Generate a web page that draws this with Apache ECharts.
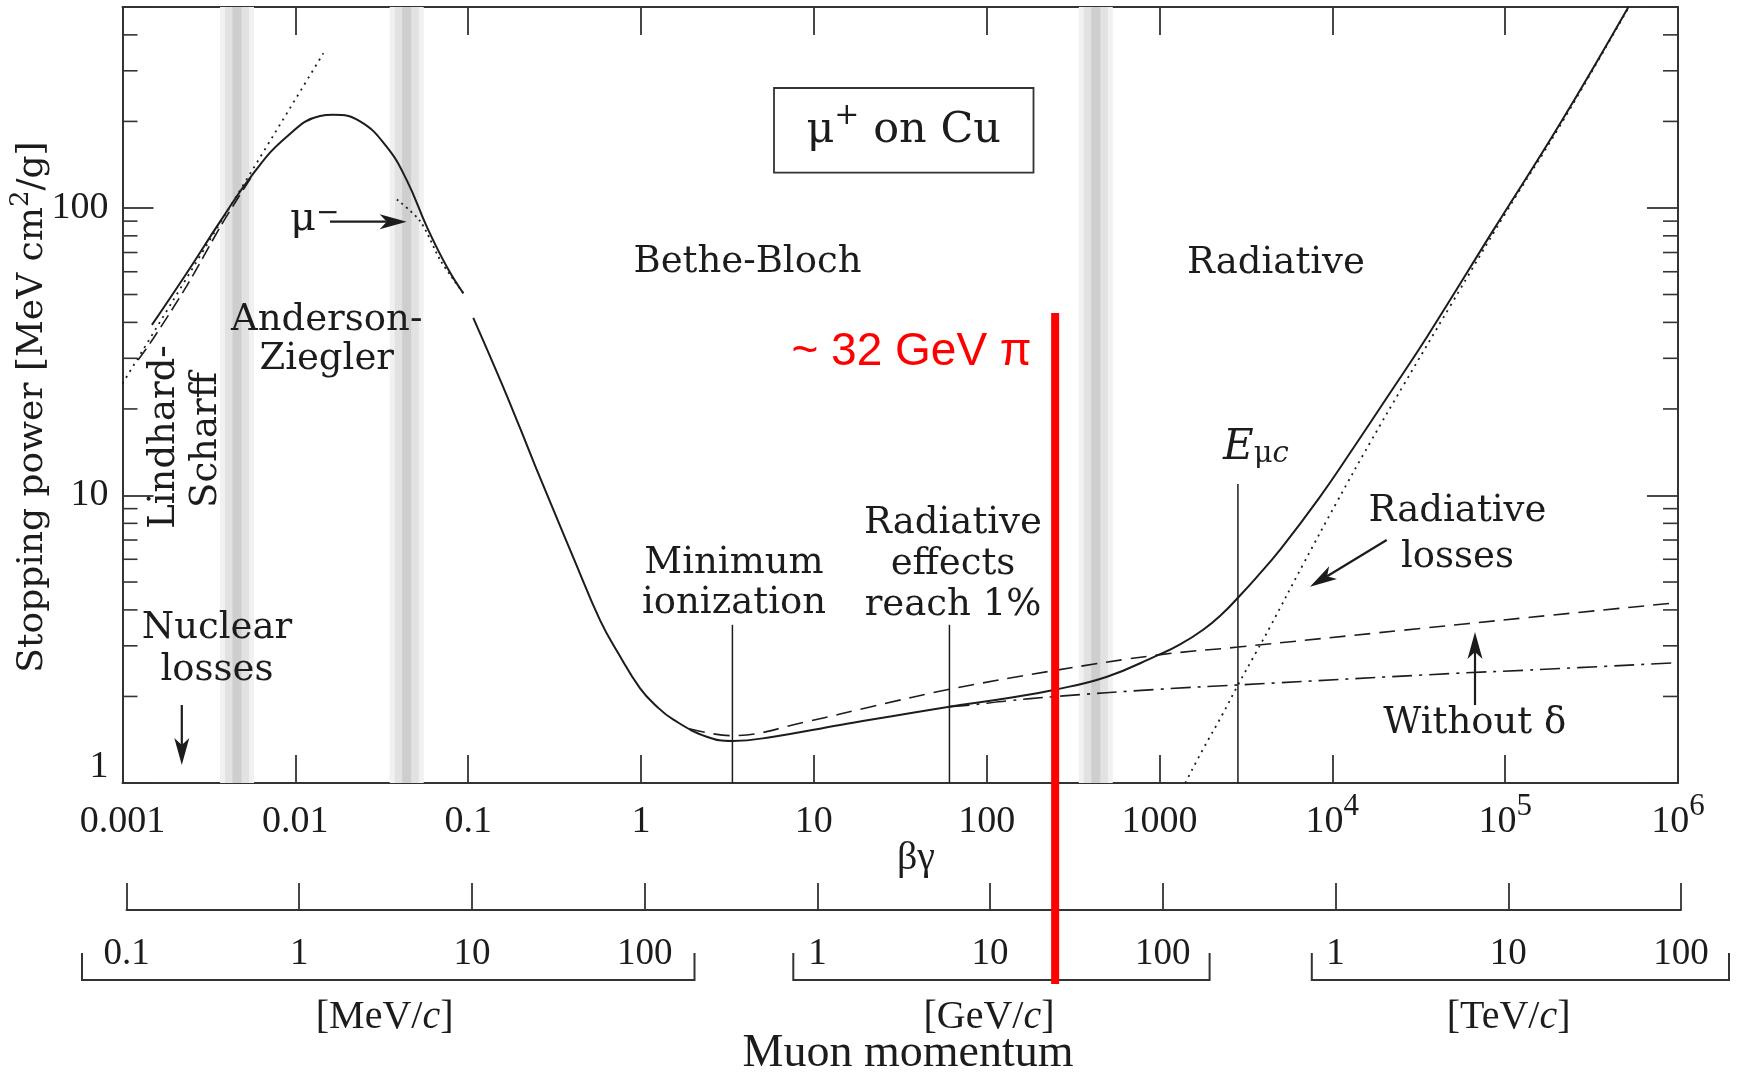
<!DOCTYPE html>
<html lang="en">
<head>
<meta charset="utf-8">
<title>Stopping power, mu+ on Cu</title>
<script src="https://cdn.jsdelivr.net/npm/echarts@6.0.0/dist/echarts.min.js"></script>
<style>
  html, body { margin: 0; padding: 0; background: #ffffff; }
  #chart { width: 1737px; height: 1075px; }
</style>
</head>
<body>
<div id="chart"></div>
<script>
// ---- values ----
// x: βγ, decades 0.001 .. 1e6 ; y: stopping power [MeV cm2/g], 1 .. 500
var betaGammaLabels = ['0.001', '0.01', '0.1', '1', '10', '100', '1000', '10{sup|4}', '10{sup|5}', '10{sup|6}'];
// muon momentum under the same decades (MeV/c, GeV/c, TeV/c)
var momentumLabels = ['0.1', '1', '10', '100', '1', '10', '100', '1', '10', '100'];
var stoppingLabels = ['1', '10', '100'];
var stoppingMinorTicks = [2, 3, 4, 5, 6, 7, 8, 9, 20, 30, 40, 50, 60, 70, 80, 90, 200, 300, 400];

// mu+ total (solid); null = the gap near βγ 0.1
var muPlusTotal = [
  [0.00148, 39.2], [0.00235, 59.3], [0.00367, 89.6], [0.00572, 132], [0.00892, 177],
  [0.0139, 209], [0.0166, 211], [0.0237, 200], [0.0338, 163], [0.0441, 125],
  [0.0576, 86.1], [0.0752, 62.5], [0.0938, 50.5], [0.1, null],
  [0.107, 41.5], [0.156, 24.6], [0.2, 17.1], [0.2465, 12.5], [0.33, 8.2], [0.41, 6.0],
  [0.58, 3.68], [0.74, 2.82], [0.988, 2.135], [1.23, 1.85], [1.54, 1.66], [2.4, 1.449],
  [3.38, 1.40], [5.84, 1.449], [14.2, 1.591], [60.9, 1.843], [131, 1.971], [244, 2.107],
  [497, 2.343], [987, 2.79], [1300, 3.02], [1797, 3.42], [2300, 3.87], [2843, 4.41],
  [3600, 5.15], [5060, 6.55], [8340, 9.75], [13000, 14.4], [20800, 22.0], [35260, 35.6],
  [85600, 83.9], [208400, 197], [517600, 501]
];
// mu- (dotted, near the Anderson-Ziegler peak)
var muMinus = [[0.0387, 107], [0.0527, 90], [0.0688, 66], [0.082, 56.5], [0.0938, 50.5]];
// Lindhard-Scharff (long dashes)
var lindhardScharff = [[0.00123, 29.6], [0.0015, 35], [0.00235, 53.5], [0.0037, 86.5], [0.0046, 107], [0.0057, 131]];
// low-energy straight extrapolation (dotted)
var lowEnergyLine = [[0.001, 24.5], [0.01452, 345]];
// without density effect δ (dashed)
var withoutDelta = [
  [1.9, 1.545], [3.38, 1.461], [9.11, 1.635], [22.1, 1.85], [60.9, 2.118], [244, 2.459],
  [987, 2.79], [2843, 2.97], [25820, 3.40], [139600, 3.77], [1000000, 4.24]
];
// ionization only (dash-dot)
var ionizationOnly = [
  [60.9, 1.843], [80.3, 1.867], [131, 1.93], [244, 1.997], [987, 2.118], [2843, 2.193],
  [52600, 2.408], [139600, 2.472], [1000000, 2.62]
];
// radiative losses (dotted)
var radiativeLosses = [
  [1409, 1.0], [1797, 1.32], [2300, 1.72], [2843, 2.19], [3600, 2.83], [4372, 3.5],
  [6818, 5.8], [10630, 9.5], [16570, 15.3], [25820, 24.2], [48100, 45.6], [100000, 95.5],
  [208400, 194], [517600, 498]
];
// vertical marker lines: minimum ionization, radiative effects 1%, E_muc
var markerBetaGamma = [3.38, 60.9, 2843];
var markerTop = [3.55, 3.55, 10.96];
// shaded bands
var bandBetaGamma = [0.0046, 0.0441, 428];
// red pion line [βγ, top]
var pionLine = [[249, 43.1]];

// ---- chart ----
var chart = echarts.init(document.getElementById('chart'));

var ink = '#1c1c1c';
var frame = '#333333';
var timesFont = '"Liberation Serif", "Times New Roman", serif';
var bookFont = '"DejaVu Serif", serif';

function decade(v) { return Math.round(Math.log(v) / Math.LN10); }
function isDecade(v) {
  var e = Math.log(v) / Math.LN10;
  return Math.abs(e - Math.round(e)) < 1e-6;
}

function logAxis(opt) {
  var axis = {
    type: 'log', logBase: 10, splitNumber: 9,
    axisLine: { show: true, onZero: false, lineStyle: { color: frame, width: 2 } },
    axisTick: { show: true, inside: true, length: opt.tick, lineStyle: { color: frame, width: 1.8 } },
    splitLine: { show: false },
    minorTick: { show: false },
    axisLabel: { show: false }
  };
  for (var k in opt) { if (k !== 'tick') axis[k] = opt[k]; }
  return axis;
}

// every βγ label gets the same padded base token so the superscripts can rise above it
var xLabelStyle = {
  show: true, color: ink, fontFamily: timesFont, fontSize: 38, margin: 8.5,
  showMinLabel: true, showMaxLabel: true,
  formatter: function (v) {
    if (!isDecade(v)) return '';
    var s = betaGammaLabels[decade(v) + 3];
    if (!s) return '';
    var parts = s.split('{sup|');
    return parts.length > 1 ? '{b|' + parts[0] + '}{sup|' + parts[1] : '{b|' + s + '}';
  },
  rich: {
    b: { color: ink, fontFamily: timesFont, fontSize: 38, padding: [11.5, 0, 0, 0] },
    sup: { color: ink, fontFamily: timesFont, fontSize: 31, verticalAlign: 'top' }
  }
};

var momLabelStyle = {
  show: true, color: ink, fontFamily: timesFont, fontSize: 37, margin: 26,
  showMinLabel: true, showMaxLabel: true,
  formatter: function (v) { return isDecade(v) ? (momentumLabels[decade(v) + 3] || '') : ''; }
};

var yLabelStyle = {
  show: true, color: ink, fontFamily: timesFont, fontSize: 38, margin: 14,
  showMinLabel: true, showMaxLabel: true,
  formatter: function (v) {
    if (!isDecade(v)) return '';
    var i = decade(v);
    if (i === 0) return '{low|' + stoppingLabels[0] + '}';
    return stoppingLabels[i] || '';
  },
  rich: { low: { color: ink, fontFamily: timesFont, fontSize: 38, padding: [0, 0, 32, 0] } }
};

function curve(data, type, width, smooth) {
  return {
    type: 'line', xAxisIndex: 0, yAxisIndex: 0, data: data,
    showSymbol: false, symbol: 'none', smooth: smooth || 0.3, connectNulls: false,
    silent: true, z: 4, emphasis: { disabled: true },
    lineStyle: { color: ink, width: width, type: type }
  };
}

// text helper for the annotations
function label(x, y, text, size, extra) {
  var style = {
    text: text, fill: ink, fontFamily: bookFont, fontSize: size,
    align: 'center', verticalAlign: 'middle'
  };
  var el = { type: 'text', x: x, y: y, z: 30, style: style, silent: true };
  if (extra) {
    for (var k in extra) {
      if (k === 'rotation') el.rotation = extra[k]; else style[k] = extra[k];
    }
  }
  return el;
}

function arrow(x1, y1, x2, y2) {
  var dx = x2 - x1, dy = y2 - y1;
  var len = Math.sqrt(dx * dx + dy * dy);
  var ux = dx / len, uy = dy / len;
  var hl = 27, hw = 7.5, notch = 7;
  var bx = x2 - ux * hl, by = y2 - uy * hl;
  var nx = x2 - ux * (hl - notch), ny = y2 - uy * (hl - notch);
  return [
    { type: 'line', z: 30, silent: true, shape: { x1: x1, y1: y1, x2: nx, y2: ny },
      style: { stroke: ink, lineWidth: 2.2 } },
    { type: 'polygon', z: 30, silent: true,
      shape: { points: [[x2, y2], [bx - uy * hw, by + ux * hw], [nx, ny], [bx + uy * hw, by - ux * hw]] },
      style: { fill: ink } }
  ];
}

function bracket(x1, x2) {
  return { type: 'polyline', z: 5, silent: true,
    shape: { points: [[x1, 953], [x1, 980], [x2, 980], [x2, 953]] },
    style: { stroke: frame, lineWidth: 2, fill: null } };
}

var italicC = { i: { fill: ink, fontFamily: timesFont, fontSize: 40, fontStyle: 'italic' } };

var graphics = [
  { type: 'rect', z: 30, silent: true, shape: { x: 774, y: 88, width: 259.5, height: 84.7 },
    style: { fill: null, stroke: frame, lineWidth: 1.8 } },
  label(903.7, 126.8, '{b|μ}{sup|+}{b| on Cu}', 43, {
    rich: {
      b: { fill: ink, fontFamily: bookFont, fontSize: 43, padding: [8.5, 0, 0, 0] },
      sup: { fill: ink, fontFamily: bookFont, fontSize: 30, verticalAlign: 'top' }
    } }),
  label(747.5, 262, 'Bethe-Bloch', 37),
  label(1276, 263, 'Radiative', 37),
  label(326.7, 339.5, 'Anderson-\nZiegler', 37, { lineHeight: 39 }),
  label(164, 437, 'Lindhard-', 37, { rotation: Math.PI / 2 }),
  label(206, 440, 'Scharff', 37, { rotation: Math.PI / 2 }),
  label(217, 649, 'Nuclear\nlosses', 37, { lineHeight: 42 }),
  label(290, 220, 'μ{sup|−}', 40, { align: 'left',
    rich: { sup: { fill: ink, fontFamily: bookFont, fontSize: 28, lineHeight: 12, verticalAlign: 'top' } } }),
  label(734, 583, 'Minimum\nionization', 37, { lineHeight: 40 }),
  label(953, 564, 'Radiative\neffects\nreach 1%', 37, { lineHeight: 41 }),
  label(1223, 448, '{e|E}{s|μ}{c|c}', 42, { align: 'left',
    rich: {
      e: { fill: ink, fontFamily: bookFont, fontSize: 42, fontStyle: 'italic' },
      s: { fill: ink, fontFamily: bookFont, fontSize: 29, lineHeight: 24, verticalAlign: 'bottom' },
      c: { fill: ink, fontFamily: bookFont, fontSize: 29, lineHeight: 24, verticalAlign: 'bottom', fontStyle: 'italic' }
    } }),
  label(1457.5, 534, 'Radiative\nlosses', 37, { lineHeight: 46 }),
  label(1474.8, 723, 'Without δ', 37),
  label(1031.6, 352, '~ 32 GeV π', 46, { align: 'right', fill: '#ff0000', fontFamily: '"Liberation Sans", Arial, sans-serif' }),
  label(29.5, 407, '{b|Stopping power [MeV cm}{sup|2}{b|/g]}', 36, { rotation: Math.PI / 2,
    rich: {
      b: { fill: ink, fontFamily: bookFont, fontSize: 36, padding: [7, 0, 0, 0] },
      sup: { fill: ink, fontFamily: bookFont, fontSize: 26, verticalAlign: 'top' }
    } }),
  label(916, 858, 'βγ', 40, { fontFamily: timesFont }),
  label(384.6, 1017, '[MeV/{i|c}]', 40, { fontFamily: timesFont, rich: italicC }),
  label(989, 1017, '[GeV/{i|c}]', 40, { fontFamily: timesFont, rich: italicC }),
  label(1508.6, 1017, '[TeV/{i|c}]', 40, { fontFamily: timesFont, rich: italicC }),
  label(908, 1054, 'Muon momentum', 46, { fontFamily: timesFont }),
  bracket(82, 694.5),
  bracket(793.3, 1209.6),
  bracket(1311.8, 1729)
];
graphics = graphics
  .concat(arrow(181.8, 705, 181.8, 765))
  .concat(arrow(330, 221.7, 406.7, 221.7))
  .concat(arrow(1386.7, 540, 1310, 586.7))
  .concat(arrow(1475, 705, 1475, 632));

var option = {
  animation: false,
  backgroundColor: '#ffffff',
  grid: [
    { left: 122.5, right: 59, top: 7, bottom: 292, containLabel: false, outerBoundsMode: 'none' },
    { left: 126.5, right: 56, top: 880, height: 30, containLabel: false, outerBoundsMode: 'none' }
  ],
  xAxis: [
    logAxis({ gridIndex: 0, position: 'bottom', min: 0.001, max: 1000000, tick: 28, axisLabel: xLabelStyle }),
    logAxis({ gridIndex: 0, position: 'top', min: 0.001, max: 1000000, tick: 28 }),
    logAxis({ gridIndex: 1, position: 'bottom', min: 0.001, max: 1000000, tick: 27, axisLabel: momLabelStyle })
  ],
  yAxis: [
    logAxis({ gridIndex: 0, position: 'left', min: 1, max: 500, tick: 31, axisLabel: yLabelStyle }),
    logAxis({ gridIndex: 0, position: 'right', min: 1, max: 500, tick: 31 }),
    { type: 'value', gridIndex: 1, show: false, min: 0, max: 1 }
  ],
  graphic: { elements: graphics },
  series: [
    // grey bands
    {
      type: 'custom', xAxisIndex: 0, yAxisIndex: 0, z: 1, silent: true,
      data: bandBetaGamma.map(function (v) { return [v, 1]; }),
      renderItem: function (params, api) {
        var x = api.coord([api.value(0), 1])[0];
        var cs = params.coordSys;
        var layers = [[34, '#f1f1f1'], [24, '#e2e2e2'], [9, '#cecece']];
        return {
          type: 'group',
          children: layers.map(function (l) {
            return { type: 'rect', shape: { x: x - l[0] / 2, y: cs.y, width: l[0], height: cs.height },
              style: { fill: l[1] } };
          })
        };
      }
    },
    // minor ticks on both y axes
    {
      type: 'custom', xAxisIndex: 0, yAxisIndex: 0, z: 6, silent: true,
      data: stoppingMinorTicks.map(function (v) { return [1, v]; }),
      renderItem: function (params, api) {
        var y = api.coord([1, api.value(1)])[1];
        var cs = params.coordSys;
        var st = { stroke: frame, lineWidth: 1.6 };
        return {
          type: 'group',
          children: [
            { type: 'line', shape: { x1: cs.x, y1: y, x2: cs.x + 15, y2: y }, style: st },
            { type: 'line', shape: { x1: cs.x + cs.width - 15, y1: y, x2: cs.x + cs.width, y2: y }, style: st }
          ]
        };
      }
    },
    // vertical marker lines
    {
      type: 'custom', xAxisIndex: 0, yAxisIndex: 0, z: 3, silent: true,
      data: markerBetaGamma.map(function (v, i) { return [v, markerTop[i]]; }),
      renderItem: function (params, api) {
        var top = api.coord([api.value(0), api.value(1)]);
        var bottom = api.coord([api.value(0), 1]);
        return { type: 'line', shape: { x1: top[0], y1: top[1], x2: bottom[0], y2: bottom[1] },
          style: { stroke: ink, lineWidth: 1.5 } };
      }
    },
    curve(lowEnergyLine, [2, 5], 1.8),
    curve(lindhardScharff, [14, 6], 1.6),
    curve(muMinus, [2, 4], 1.8),
    curve(withoutDelta, [16, 9], 1.6, 0.4),
    curve(ionizationOnly, [20, 7, 3, 7], 1.6, 0.4),
    curve(radiativeLosses, [2, 5], 1.8, 0.45),
    curve(muPlusTotal, 'solid', 2, 0.45),
    // red marker line, running down into the momentum scale
    {
      type: 'custom', xAxisIndex: 0, yAxisIndex: 0, z: 40, silent: true, clip: false,
      data: pionLine,
      renderItem: function (params, api) {
        var top = api.coord([api.value(0), api.value(1)]);
        var base = api.coord([api.value(0), 1]);
        return { type: 'line', shape: { x1: top[0], y1: top[1], x2: top[0], y2: base[1] + 201 },
          style: { stroke: '#ff0000', lineWidth: 8 } };
      }
    }
  ]
};

chart.setOption(option);
</script>
</body>
</html>
